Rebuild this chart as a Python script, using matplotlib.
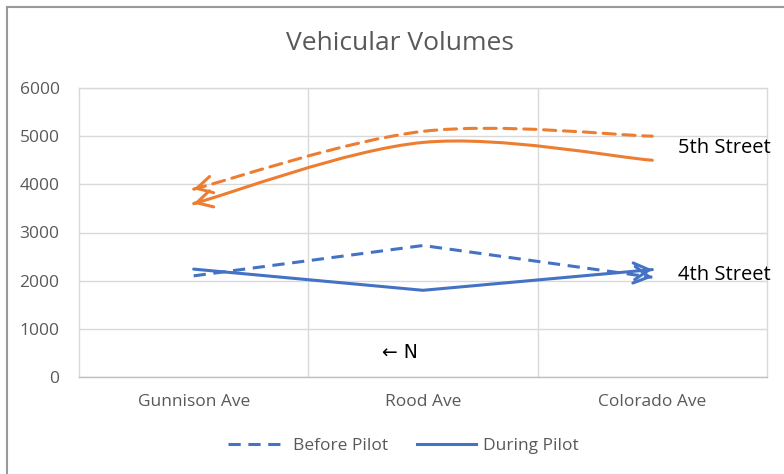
import numpy as np
import matplotlib
matplotlib.use("Agg")
import matplotlib.pyplot as plt
from matplotlib.path import Path
from matplotlib.patches import PathPatch
from matplotlib.lines import Line2D

plt.rcParams['font.family'] = ['Open Sans', 'DejaVu Sans']

# data
streets = ['Gunnison Ave', 'Rood Ave', 'Colorado Ave']
fifth_before = [3900, 5100, 5000]
fifth_during = [3600, 4870, 4500]
fourth_before = [2100, 2730, 2070]
fourth_during = [2240, 1800, 2230]

orange = '#ED7D31'
blue = '#4472C4'
grid_col = '#D9D9D9'
txt_col = '#595959'

fig = plt.figure(figsize=(7.84, 4.74), dpi=100)
ax = fig.add_axes([79/784, 97/474, 688/784, 289/474])

x = np.arange(len(streets))


def smooth_path(xs, ys):
    # catmull-rom style bezier, similar to Excel "smoothed line"
    pts = np.column_stack([xs, ys]).astype(float)
    ext = np.vstack([pts[0], pts, pts[-1]])
    verts = [pts[0]]
    codes = [Path.MOVETO]
    for i in range(len(pts) - 1):
        p0, p1, p2, p3 = ext[i], ext[i + 1], ext[i + 2], ext[i + 3]
        c1 = p1 + (p2 - p0) / 6
        c2 = p2 - (p3 - p1) / 6
        verts += [c1, c2, p2]
        codes += [Path.CURVE4] * 3
    return Path(verts, codes), np.array(verts)


def arrow_head(tip, toward, color):
    tip = np.asarray(tip, float)
    toward = np.asarray(toward, float)
    start = tip + (toward - tip) * 0.03
    ax.annotate('', xy=tip, xytext=start,
                arrowprops=dict(arrowstyle='->, head_length=0.55, head_width=0.3',
                                color=color, lw=2.2, shrinkA=0, shrinkB=0,
                                mutation_scale=20, capstyle='round',
                                joinstyle='round'),
                annotation_clip=False)


dash = (0, (4, 2.5))

# 5th Street - smoothed, arrow at Gunnison end
for vals, ls in [(fifth_before, dash), (fifth_during, '-')]:
    p, v = smooth_path(x, vals)
    ax.add_patch(PathPatch(p, fill=False, edgecolor=orange, lw=2.2,
                           linestyle=ls, capstyle='round'))
    arrow_head(v[0], v[1], orange)

# 4th Street - straight, arrow at Colorado end
for vals, ls in [(fourth_before, dash), (fourth_during, '-')]:
    ax.plot(x, vals, color=blue, lw=2.2, linestyle=ls, solid_capstyle='round')
    arrow_head((x[-1], vals[-1]), (x[-2], vals[-2]), blue)

ax.set_xlim(-0.5, 2.5)
ax.set_ylim(0, 6000)
ax.set_yticks(range(0, 6001, 1000))
ax.set_xticks(x)
ax.set_xticklabels(streets)
ax.set_xticks([0.5, 1.5], minor=True)
ax.grid(True, axis='y', color=grid_col, lw=1)
ax.grid(True, axis='x', which='minor', color=grid_col, lw=1)
ax.tick_params(axis='both', which='both', length=0, labelsize=12.5, colors=txt_col)
ax.tick_params(axis='y', pad=14)
ax.tick_params(axis='x', pad=12)
for s in ax.spines.values():
    s.set_color(grid_col)
    s.set_linewidth(1)
ax.spines['bottom'].set_color('#BFBFBF')
ax.set_axisbelow(True)

ax.text(2.113, 4760, '5th Street', fontsize=14.5, color='black', va='center', clip_on=False)
ax.text(2.113, 2110, '4th Street', fontsize=14.5, color='black', va='center', clip_on=False)
ax.text(0.822, 500, '\u2190 N', fontsize=13.5, color='black', va='center',
        family=['DejaVu Sans'])

fig.text(0.51, 1 - 44/474, 'Vehicular Volumes', fontsize=19, color=txt_col,
         ha='center', va='center')

handles = [Line2D([], [], color=blue, lw=2.2, linestyle=dash),
           Line2D([], [], color=blue, lw=2.2)]
fig.legend(handles, ['Before Pilot', 'During Pilot'], loc='center',
           bbox_to_anchor=(0.514, 1 - 446/474), ncol=2, frameon=False,
           fontsize=12.5, labelcolor=txt_col, handlelength=3.4, handletextpad=0.35,
           columnspacing=1.7)

# chart border (top and left edges visible)
fig.add_artist(Line2D([7/784, 7/784], [0, 1 - 7/474], color='#999999', lw=1.5,
                      transform=fig.transFigure))
fig.add_artist(Line2D([7/784, 1], [1 - 7/474, 1 - 7/474], color='#999999', lw=1.5,
                      transform=fig.transFigure))

fig.savefig('out.png', dpi=100)
